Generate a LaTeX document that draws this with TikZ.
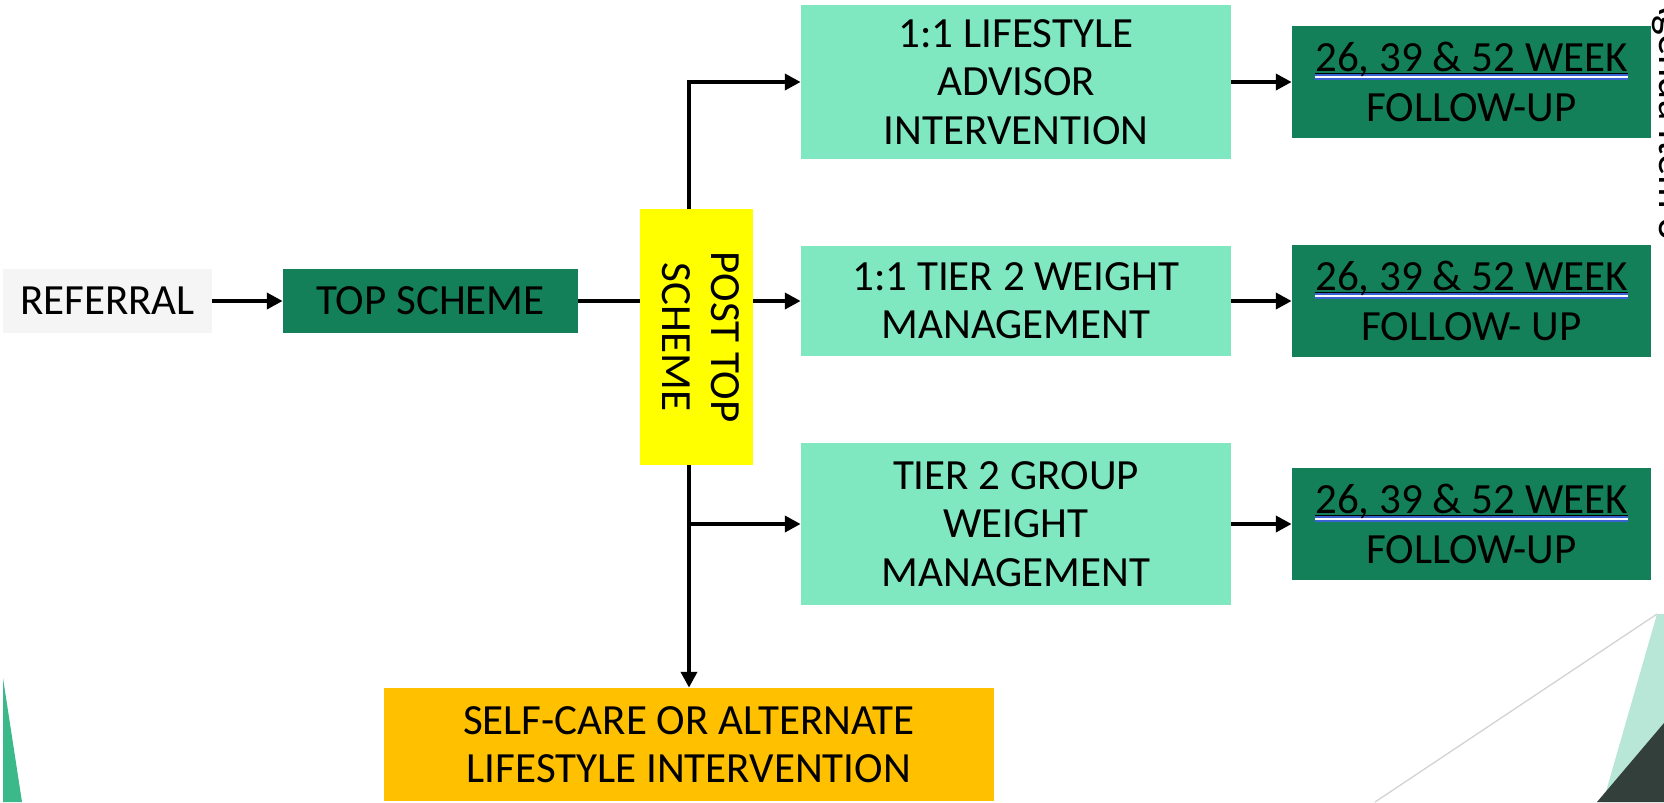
\documentclass[tikz,border=0pt]{standalone}
\usepackage{fontspec}
\setmainfont{Carlito}
\usetikzlibrary{arrows.meta}
\definecolor{refgrey}{HTML}{F5F5F5}
\definecolor{topgreen}{HTML}{14805A}
\definecolor{optgreen}{HTML}{80E8C1}
\definecolor{postyellow}{HTML}{FFFF00}
\definecolor{careorange}{HTML}{FFC000}
\definecolor{ulblue}{HTML}{3A62D0}
\definecolor{edgegreen}{HTML}{3CB98A}
\definecolor{palegreen}{HTML}{B8E6D7}
\definecolor{slate}{HTML}{333F3A}
\definecolor{thinline}{HTML}{D6D6D6}
\newcommand{\wkline}[1]{\setbox0\hbox{#1}%
\rlap{\color{black}\rule[-1.5pt]{\wd0}{0.75pt}}%
\rlap{\color{ulblue}\rule[-2.5pt]{\wd0}{1pt}}%
\rlap{\color{white}\rule[-3.6pt]{\wd0}{1pt}}%
\rlap{\color{ulblue}\rule[-4.7pt]{\wd0}{1pt}}%
\box0}

\begin{document}
\begin{tikzpicture}[x=0.02cm, y=-0.02cm,
box/.style={rectangle, inner sep=0pt, align=center, font=\fontsize{24.5}{27.5}\selectfont},
fubox/.style={box, fill=topgreen, minimum width=7.18cm, minimum height=2.24cm, font=\fontsize{24.5}{28.4}\selectfont},
optbox/.style={box, fill=optgreen, minimum width=8.6cm},
ln/.style={line width=2.5pt},
arr/.style={ln, -{Triangle[length=9pt,width=9pt]}}]
\useasboundingbox (0,0) rectangle (1664,802);
\fill[white] (0,0) rectangle (1664,802);
\fill[edgegreen] (3,678)--(22,802)--(3,802)--cycle;
\fill[palegreen] (1657,614)--(1664,614)--(1664,802)--(1603,802)--cycle;
\fill[slate] (1664,723)--(1664,802)--(1597,802)--cycle;
\draw[thinline, line width=0.8pt] (1657,614)--(1375,802);

\node[box, fill=refgrey, minimum width=4.18cm, minimum height=1.28cm] (refer) at (107.5,301) {REFERRAL};
\node[box, fill=topgreen, minimum width=5.9cm, minimum height=1.28cm] (topsch) at (430.5,301) {TOP SCHEME};
\node[box, fill=postyellow, minimum width=2.26cm, minimum height=5.12cm] (post) at (696.5,337)
{\rotatebox{-90}{\begin{tabular}{@{}c@{}}POST TOP\\SCHEME\end{tabular}}};
\node[optbox, minimum height=3.08cm] (life) at (1016,82) {1:1 LIFESTYLE\\ADVISOR\\INTERVENTION};
\node[optbox, minimum height=2.2cm] (tier) at (1016,301) {1:1 TIER 2 WEIGHT\\MANAGEMENT};
\node[optbox, minimum height=3.24cm] (group) at (1016,524) {TIER 2 GROUP\\WEIGHT\\MANAGEMENT};
\node[fubox] (fuA) at (1471.5,82) {\wkline{26, 39 \& 52 WEEK}\\FOLLOW-UP};
\node[fubox] (fuB) at (1471.5,301) {\wkline{26, 39 \& 52 WEEK}\\FOLLOW- UP};
\node[fubox] (fuC) at (1471.5,524) {\wkline{26, 39 \& 52 WEEK}\\FOLLOW-UP};
\node[box, fill=careorange, minimum width=12.2cm, minimum height=2.26cm] (self) at (689,744.5)
{SELF-CARE OR ALTERNATE\\LIFESTYLE INTERVENTION};
\node[rotate=-90, anchor=base east, inner sep=0pt, font=\fontsize{24}{28}\selectfont] (agenda) at (1659,240) {Agenda Item 8};

\draw[arr] (refer.east)--(topsch.west);
\draw[ln] (topsch.east)--(topsch.east -| post.west);
\draw[arr] (post.east |- tier.west)--(tier.west);
\draw[arr] (post.north -| self.north) |- (life.west);
\draw[arr] (post.south -| self.north)--(self.north);
\draw[arr] (self.north |- group.west)--(group.west);
\draw[arr] (life.east)--(fuA.west);
\draw[arr] (tier.east)--(fuB.west);
\draw[arr] (group.east)--(fuC.west);
\end{tikzpicture}
\end{document}
